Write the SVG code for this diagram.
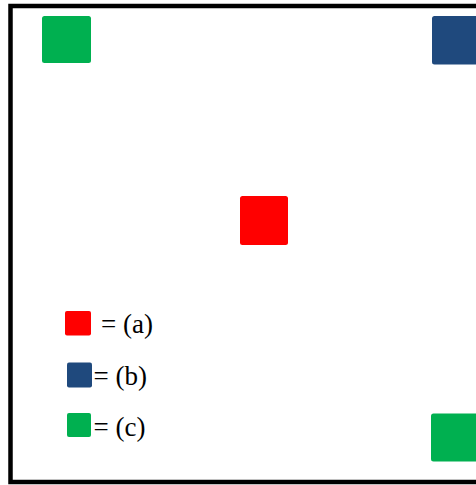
<svg xmlns="http://www.w3.org/2000/svg" width="476" height="485" viewBox="0 0 476 485">
  <style>
    .a { fill: #FF0000; }
    .b { fill: #1F497D; }
    .c { fill: #00B050; }
    .lbl { font-family: "Liberation Serif", "Times New Roman", serif; font-size: 27px; fill: #000000; }
  </style>
  <rect id="frame" x="10.5" y="6" width="480" height="476" fill="#FFFFFF" stroke="#000000" stroke-width="4.5"/>
  <g id="node-c-topleft"><rect class="c" x="42" y="16" width="49" height="47" rx="2.5"/></g>
  <g id="node-b-topright"><rect class="b" x="432" y="16" width="50" height="48.5" rx="2.5"/></g>
  <g id="node-a-center"><rect class="a" x="240" y="196" width="48" height="49" rx="2.5"/></g>
  <g id="node-c-bottomright"><rect class="c" x="431" y="413.5" width="50" height="48" rx="2.5"/></g>
  <g id="legend-a">
    <rect class="a" x="65" y="311" width="26" height="24.5" rx="2"/>
    <text class="lbl" x="101" y="333">= (a)</text>
  </g>
  <g id="legend-b">
    <rect class="b" x="67" y="362.5" width="25" height="25" rx="2"/>
    <text class="lbl" x="93.5" y="384.5">= (b)</text>
  </g>
  <g id="legend-c">
    <rect class="c" x="67" y="413" width="24" height="24" rx="2"/>
    <text class="lbl" x="93.5" y="435.5">= (c)</text>
  </g>
</svg>
